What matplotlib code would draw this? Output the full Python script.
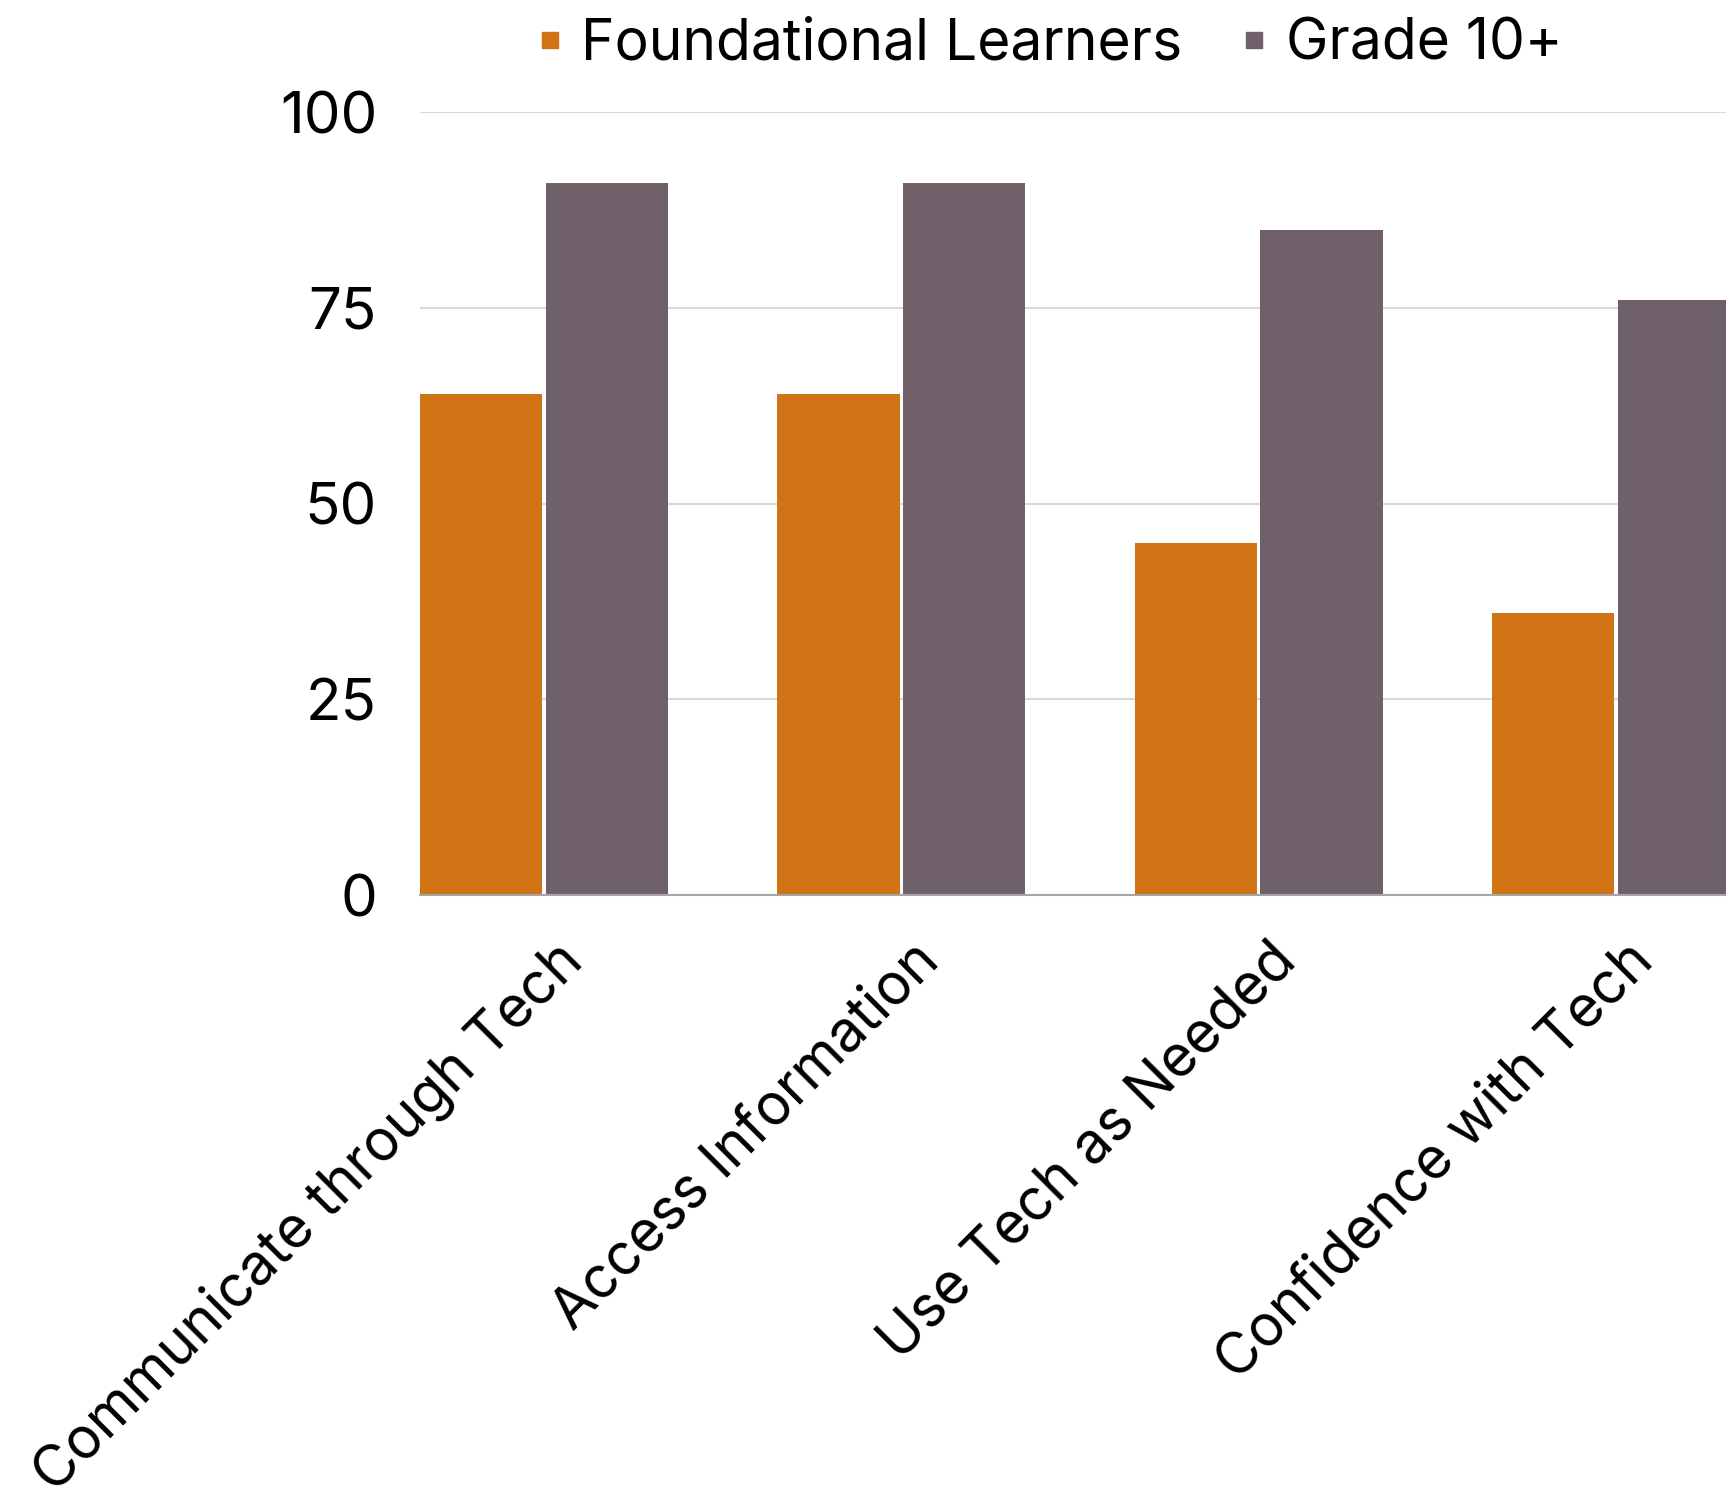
import numpy as np
import matplotlib.pyplot as plt
from matplotlib.lines import Line2D
from matplotlib.transforms import ScaledTranslation

categories = ["Communicate through Tech", "Access Information",
              "Use Tech as Needed", "Confidence with Tech"]
foundational = [64, 64, 45, 36]
grade10 = [91, 91, 85, 76]
series_names = ["Foundational Learners", "Grade 10+"]
yticks = [0, 25, 50, 75, 100]

orange = "#D07314"
grey = "#6F606A"

plt.rcParams['font.family'] = ['Inter', 'DejaVu Sans']

fig = plt.figure(figsize=(17.26, 14.96), dpi=100)
ax = fig.add_axes([0.2434, 0.4017, 0.7566, 0.5234])

x = np.arange(len(categories))
w = 0.342
gap = 0.005
ax.bar(x - w / 2 - gap, foundational, width=w, color=orange, zorder=3)
ax.bar(x + w / 2 + gap, grade10, width=w, color=grey, zorder=3)

ax.set_xlim(-w - gap, 3.308)
ax.set_ylim(0, 100)

# Gridlines
ax.set_yticks(yticks)
ax.yaxis.grid(True, color="#d9d9d9", linewidth=1.5, zorder=0)
ax.tick_params(axis='y', length=0, labelsize=42, pad=31)
ax.tick_params(axis='x', length=0)

for s in ['top', 'right', 'left']:
    ax.spines[s].set_visible(False)
ax.spines['bottom'].set_color("#a6a6a6")
ax.spines['bottom'].set_linewidth(1.5)
ax.spines['bottom'].set_zorder(4)

ax.set_xticks(x)
ax.set_xticklabels(categories, rotation=45, ha='right', va='top',
                   rotation_mode='anchor', fontsize=41)
for lbl in ax.get_xticklabels():
    lbl.set_transform(lbl.get_transform() + ScaledTranslation(0.1, -0.33, fig.dpi_scale_trans))

handles = [Line2D([], [], marker='s', linestyle='none', color=orange, markersize=12),
           Line2D([], [], marker='s', linestyle='none', color=grey, markersize=12)]
fig.legend(handles, series_names, loc='center', bbox_to_anchor=(0.607, 0.970),
           ncol=2, frameon=False, fontsize=41, handletextpad=0.26,
           columnspacing=0.96, handlelength=0.6)

fig.savefig("out.png", dpi=100)
